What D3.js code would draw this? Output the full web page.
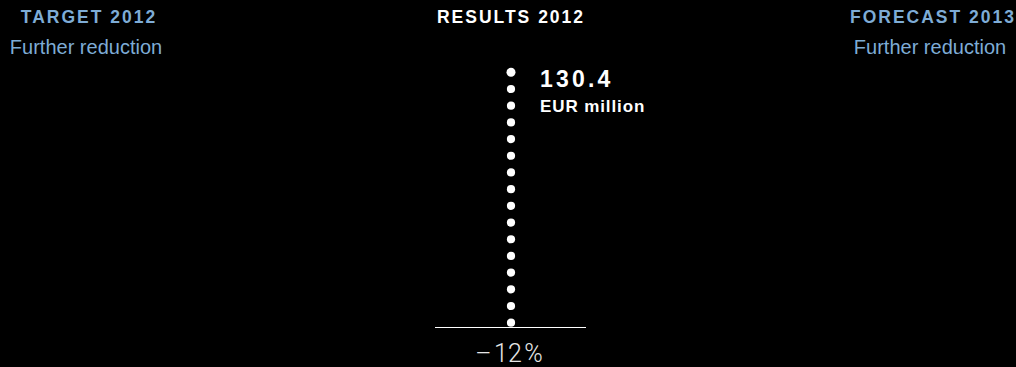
<!DOCTYPE html>
<html>
<head>
<meta charset="utf-8">
<script src="https://cdn.jsdelivr.net/npm/d3@7/dist/d3.min.js"></script>
<style>
  html, body { margin: 0; padding: 0; background: #000; }
  svg { display: block; }
</style>
</head>
<body>
<svg id="chart" width="1016" height="367"></svg>
<script>
// Column headings and their sub-lines
const headings = ["TARGET 2012", "RESULTS 2012", "FORECAST 2013"];
const subtitles = ["Further reduction", null, "Further reduction"];
const headingColors = ["#7eacd6", "#ffffff", "#7eacd6"];

// Result value shown as a column of dots
const resultValue = 130.4;
const resultUnit = "EUR million";
const resultChange = "\u2013\u200A12\u200A%";
const dotCount = 16;

const svg = d3.select("#chart");

const x = d3.scalePoint().domain(headings).range([89, 933]);
const baseY = 327.5;
const y = d3.scaleLinear().domain([0, resultValue]).range([322.7, 72.3]);

const font = "'Liberation Sans', Arial, Helvetica, sans-serif";

// headings
svg.selectAll("text.head")
  .data(headings)
  .join("text")
  .attr("class", "head")
  .attr("x", d => x(d))
  .attr("y", 23)
  .attr("text-anchor", "middle")
  .attr("fill", (d, i) => headingColors[i])
  .style("font-family", font)
  .style("font-weight", "bold")
  .style("font-size", "17.5px")
  .style("letter-spacing", "2px")
  .text(d => d);

// sub-lines
svg.selectAll("text.sub")
  .data(headings.map((h, i) => ({ h, s: subtitles[i] })).filter(d => d.s))
  .join("text")
  .attr("class", "sub")
  .attr("x", d => x(d.h) - 3)
  .attr("y", 54)
  .attr("text-anchor", "middle")
  .attr("fill", "#7eacd6")
  .style("font-family", font)
  .style("font-size", "20px")
  .text(d => d.s);

const cx = x("RESULTS 2012");

// baseline
svg.append("line")
  .attr("x1", cx - 76).attr("x2", cx + 75)
  .attr("y1", baseY).attr("y2", baseY)
  .attr("stroke", "#ffffff")
  .attr("stroke-width", 1.2);

// dot column from zero up to the result value
const dotValues = d3.range(dotCount).map(i => resultValue * i / (dotCount - 1));
svg.selectAll("circle.dot")
  .data(dotValues)
  .join("circle")
  .attr("class", "dot")
  .attr("cx", cx)
  .attr("cy", d => y(d))
  .attr("r", (d, i) => i === dotCount - 1 ? 4.5 : 4.1)
  .attr("fill", "#ffffff");

// value label next to the top dot
svg.append("text")
  .attr("x", cx + 29)
  .attr("y", y(resultValue) + 15)
  .attr("fill", "#ffffff")
  .style("font-family", font)
  .style("font-weight", "bold")
  .style("font-size", "23px")
  .style("letter-spacing", "3.2px")
  .text(d3.format(".1f")(resultValue));

svg.append("text")
  .attr("x", cx + 29)
  .attr("y", y(resultValue) + 39.5)
  .attr("fill", "#ffffff")
  .style("font-family", font)
  .style("font-weight", "bold")
  .style("font-size", "17px")
  .style("letter-spacing", "0.9px")
  .text(resultUnit);

// change below the baseline
svg.append("text")
  .attr("x", cx - 2)
  .attr("y", 361.5)
  .attr("text-anchor", "middle")
  .attr("fill", "#e6e6e6")
  .style("font-family", "Roboto, sans-serif")
  .style("font-weight", "300")
  .style("font-size", "25px")
  .text(resultChange);
</script>
</body>
</html>
